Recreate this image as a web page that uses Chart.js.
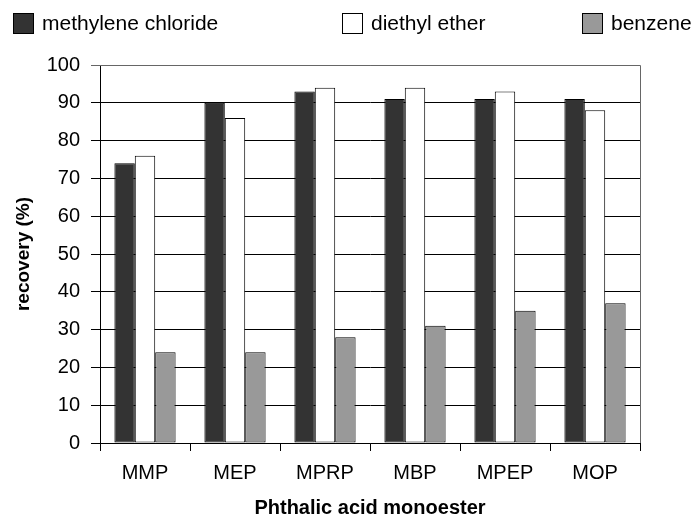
<!DOCTYPE html>
<html lang="en">
<head>
  <meta charset="UTF-8">
  <title>Phthalic acid monoester recovery</title>
  <script src="https://cdn.jsdelivr.net/npm/chart.js@4.4.0/dist/chart.umd.min.js"></script>
  <style>
    body { margin: 0; background: #fff; }
  </style>
</head>
<body>
<canvas id="chart" width="694" height="520"></canvas>

<script>
const esters = ['MMP', 'MEP', 'MPRP', 'MBP', 'MPEP', 'MOP'];
const methyleneChloride = [74, 90, 93, 91, 91, 91];
const diethylEther = [76, 86, 94, 94, 93, 88];
const benzene = [24, 24, 28, 31, 35, 37];
const yTicks = [0, 10, 20, 30, 40, 50, 60, 70, 80, 90, 100];

const font = "'Liberation Sans', Arial, sans-serif";

// legend spread across the top like the original, drawn from the datasets
const topLegend = {
  id: 'topLegend',
  afterDraw(chart) {
    const ctx = chart.ctx;
    const xs = [13, 342, 582];
    ctx.save();
    ctx.font = '21px ' + font;
    ctx.textBaseline = 'middle';
    chart.data.datasets.forEach((ds, i) => {
      ctx.fillStyle = ds.backgroundColor;
      ctx.fillRect(xs[i] + 0.5, 13.5, 20, 20);
      ctx.strokeStyle = '#000';
      ctx.lineWidth = 1;
      ctx.strokeRect(xs[i] + 0.5, 13.5, 20, 20);
      ctx.fillStyle = '#000';
      ctx.fillText(ds.label, xs[i] + 29, 24);
    });
    ctx.restore();
  }
};

// grey frame on top and right of the plot
const frame = {
  id: 'frame',
  beforeDatasetsDraw(chart) {
    const a = chart.chartArea;
    const ctx = chart.ctx;
    ctx.save();
    ctx.strokeStyle = '#666';
    ctx.lineWidth = 1;
    ctx.beginPath();
    ctx.moveTo(a.left, Math.round(a.top) + 0.5);
    ctx.lineTo(Math.round(a.right) + 0.5, Math.round(a.top) + 0.5);
    ctx.lineTo(Math.round(a.right) + 0.5, a.bottom);
    ctx.stroke();
    ctx.restore();
  }
};

const ctx = document.getElementById('chart').getContext('2d');
const myChart = new Chart(ctx, {
  type: 'bar',
  data: {
    labels: esters,
    datasets: [
      { label: 'methylene chloride', data: methyleneChloride, backgroundColor: '#333333' },
      { label: 'diethyl ether', data: diethylEther, backgroundColor: '#ffffff' },
      { label: 'benzene', data: benzene, backgroundColor: '#999999' }
    ]
  },
  options: {
    responsive: false,
    animation: false,
    layout: { padding: { top: 65, right: 54, left: 0, bottom: 0 } },
    datasets: {
      bar: {
        borderColor: '#000',
        borderWidth: 1,
        borderSkipped: false,
        categoryPercentage: 0.68,
        barPercentage: 1
      }
    },
    plugins: {
      legend: { display: false },
      tooltip: { enabled: false }
    },
    scales: {
      x: {
        afterFit(scale) { scale.height = 77; },
        grid: { drawOnChartArea: false, drawTicks: true, tickLength: 8, color: '#000' },
        border: { color: '#000', width: 1 },
        ticks: { color: '#000', padding: 10, font: { family: font, size: 20 } },
        title: {
          display: true,
          text: 'Phthalic acid monoester',
          color: '#000',
          padding: { top: 0, bottom: 0 },
          font: { family: font, size: 20, weight: 'bold' }
        }
      },
      y: {
        min: 0,
        max: 100,
        afterFit(scale) { scale.width = 100; },
        afterBuildTicks(scale) { scale.ticks = yTicks.map(v => ({ value: v })); },
        grid: {
          color: c => (c.tick && c.tick.value === 100 ? '#666' : '#000'),
          tickLength: 9
        },
        border: { color: '#000', width: 1 },
        ticks: { color: '#000', padding: 11, font: { family: font, size: 20 } },
        title: {
          display: true,
          text: 'recovery (%)',
          color: '#000',
          padding: { top: 12, bottom: 0 },
          font: { family: font, size: 19, weight: 'bold' }
        }
      }
    }
  },
  plugins: [topLegend, frame]
});
</script>
</body>
</html>
